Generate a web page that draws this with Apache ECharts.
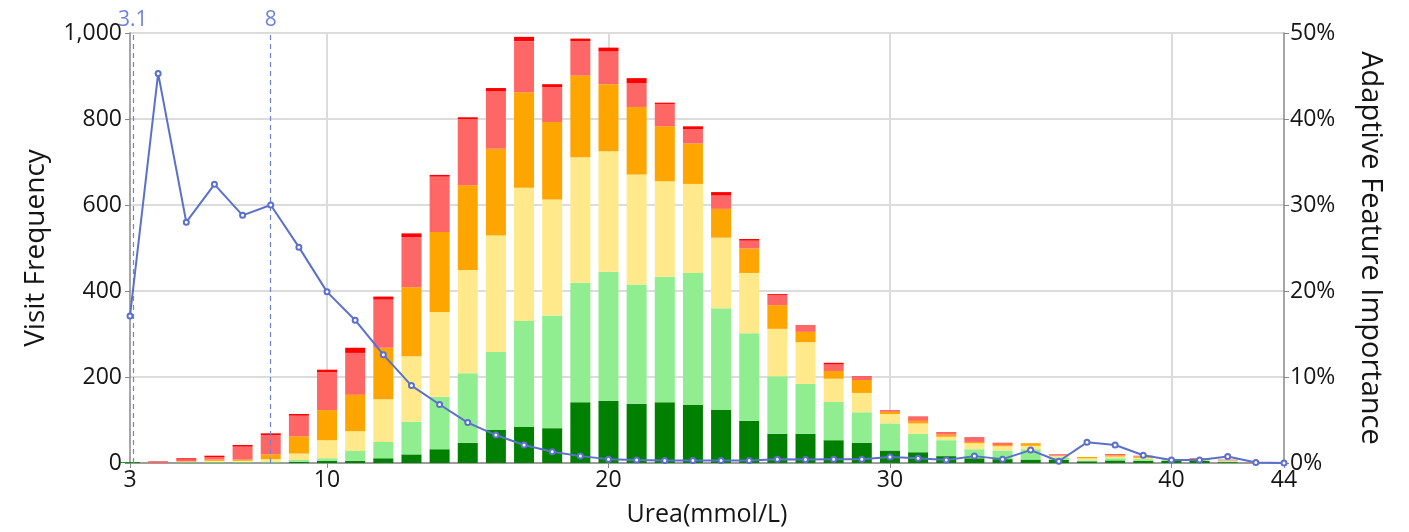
<!DOCTYPE html>
<html>
<head>
<meta charset="utf-8">
<script src="https://cdn.jsdelivr.net/npm/echarts@6/dist/echarts.min.js"></script>
<style>html,body{margin:0;padding:0;background:#fff;}#c{width:1409px;height:532px;}</style>
</head>
<body>
<div id="c"></div>
<script>
// Bin centres (Urea, mmol/L); the last one (44) closes the axis and holds no bar
const bins = [3,4,5,6,7,8,9,10,11,12,13,14,15,16,17,18,19,20,21,22,23,24,25,26,27,28,29,30,31,32,33,34,35,36,37,38,39,40,41,42,43,44];
// Stacked visit counts, bottom to top
const darkGreen  = [2,0,1,1,1,1,3,5,5,11,20,32,47,77,84,81,141,145,138,141,135,123,98,68,68,53,47,29,25,16,11,9,8,7,4,6,5,5,5,2,0];
const lightGreen = [0,0,1,2,2,2,4,6,23,38,76,122,162,181,246,262,278,300,277,292,307,237,204,134,116,89,71,63,43,37,21,20,24,6,2,5,4,2,1,2,0];
const yellow     = [0,0,1,2,2,6,15,42,46,99,152,197,240,271,310,270,292,280,256,222,207,164,140,110,97,54,45,22,24,8,14,10,8,4,5,4,3,0,1,2,0];
const orange     = [0,0,1,3,3,11,40,70,85,120,161,186,197,202,222,180,190,156,157,128,94,67,57,55,24,18,30,5,6,5,3,3,6,0,3,3,3,0,1,0,0];
const salmon     = [0,3,4,6,30,45,48,88,97,112,116,129,154,134,119,81,80,76,55,52,33,31,18,24,13,15,8,3,9,5,10,4,0,2,0,2,2,1,2,2,1];
const red        = [0,1,3,3,4,4,4,6,12,7,9,4,4,7,10,7,6,9,12,3,7,8,4,2,2,4,1,1,1,1,1,1,0,1,0,1,0,0,1,0,0];
// Adaptive feature importance (%)
const impX = [3,4,5,6,7,8,9,10,11,12,13,14,15,16,17,18,19,20,21,22,23,24,25,26,27,28,29,30,31,32,33,34,35,36,37,38,39,40,41,42,43,44];
const impY = [17.1,45.3,28.0,32.4,28.8,30.0,25.1,19.9,16.6,12.6,9.0,6.8,4.7,3.25,2.1,1.3,0.8,0.45,0.35,0.3,0.3,0.3,0.3,0.45,0.4,0.45,0.45,0.7,0.55,0.35,0.8,0.45,1.5,0.2,2.4,2.1,0.9,0.35,0.35,0.75,0.05,0];
// Thresholds
const thresholds = [3.1, 8];
const xTicks = [3,10,20,30,40,44];

const FONT = 'Open Sans';
const txt = '#151515';
const stackDefs = [
  ['Dark green', darkGreen, '#008000'],
  ['Light green', lightGreen, '#90EE90'],
  ['Yellow', yellow, '#FFE98A'],
  ['Orange', orange, '#FFA500'],
  ['Salmon', salmon, '#FF6666'],
  ['Red', red, '#FF0000']
];
const series = stackDefs.map(([name, arr, color]) => ({
  name, type: 'bar', stack: 'v', barWidth: 20, xAxisIndex: 0, yAxisIndex: 0, data: arr,
  itemStyle: { color },
  silent: true
}));
series.push({
  name: 'Importance', type: 'line', xAxisIndex: 1, yAxisIndex: 1, z: 5,
  data: impX.map((x, i) => [x, impY[i]]),
  symbol: 'emptyCircle', symbolSize: 5, showAllSymbol: true,
  lineStyle: { color: '#5b70cc', width: 2 },
  itemStyle: { color: '#5b70cc', borderWidth: 1.5 },
  markLine: {
    silent: true, symbol: 'none',
    lineStyle: { color: '#6f84d8', type: [5, 4], width: 1.2 },
    label: { position: 'end', formatter: (p) => String(p.value), color: '#6f84d8', fontSize: 21, fontFamily: FONT, distance: 2 },
    data: thresholds.map(v => ({ xAxis: v }))
  }
});

const chart = echarts.init(document.getElementById('c'));
chart.setOption({
  animation: false,
  backgroundColor: '#fff',
  grid: { left: 130, right: 125, top: 33, bottom: 68 },
  xAxis: [{
    type: 'category', data: bins.map(String), boundaryGap: false, show: false
  }, {
    type: 'value', min: 3, max: 44, position: 'bottom',
    name: 'Urea(mmol/L)', nameLocation: 'middle', nameGap: 39,
    nameTextStyle: { fontSize: 25, color: txt, fontFamily: FONT },
    axisLine: { show: true, onZero: false, lineStyle: { color: '#888', width: 1.5 } },
    axisTick: { show: true, length: 5, lineStyle: { color: '#888' }, customValues: xTicks },
    axisLabel: { fontSize: 23, color: txt, fontFamily: FONT, margin: 6, customValues: xTicks },
    splitLine: { show: true, showMinLine: false, showMaxLine: false, lineStyle: { color: '#dcdcdc', width: 2 } }
  }],
  yAxis: [{
    type: 'value', min: 0, max: 1000, interval: 200,
    name: 'Visit Frequency', nameLocation: 'middle', nameGap: 80,
    nameTextStyle: { fontSize: 28, color: txt, fontFamily: FONT },
    axisLine: { show: true, lineStyle: { color: '#888', width: 1.5 } },
    axisTick: { show: true, length: 5, lineStyle: { color: '#888' } },
    axisLabel: { fontSize: 23, color: txt, fontFamily: FONT, margin: 8, formatter: (v) => v.toLocaleString('en-US') },
    splitLine: { show: true, lineStyle: { color: '#dcdcdc', width: 2 } }
  }, {
    type: 'value', min: 0, max: 50, interval: 10,
    name: 'Adaptive Feature Importance', nameLocation: 'middle', nameGap: 72, nameRotate: -90,
    nameTextStyle: { fontSize: 29, color: txt, fontFamily: FONT },
    axisLine: { show: true, lineStyle: { color: '#888', width: 1.5 } },
    axisTick: { show: true, length: 5, lineStyle: { color: '#888' } },
    axisLabel: { fontSize: 23, color: txt, fontFamily: FONT, margin: 6, formatter: '{value}%' },
    splitLine: { show: false }
  }],
  series
});
</script>
</body>
</html>
